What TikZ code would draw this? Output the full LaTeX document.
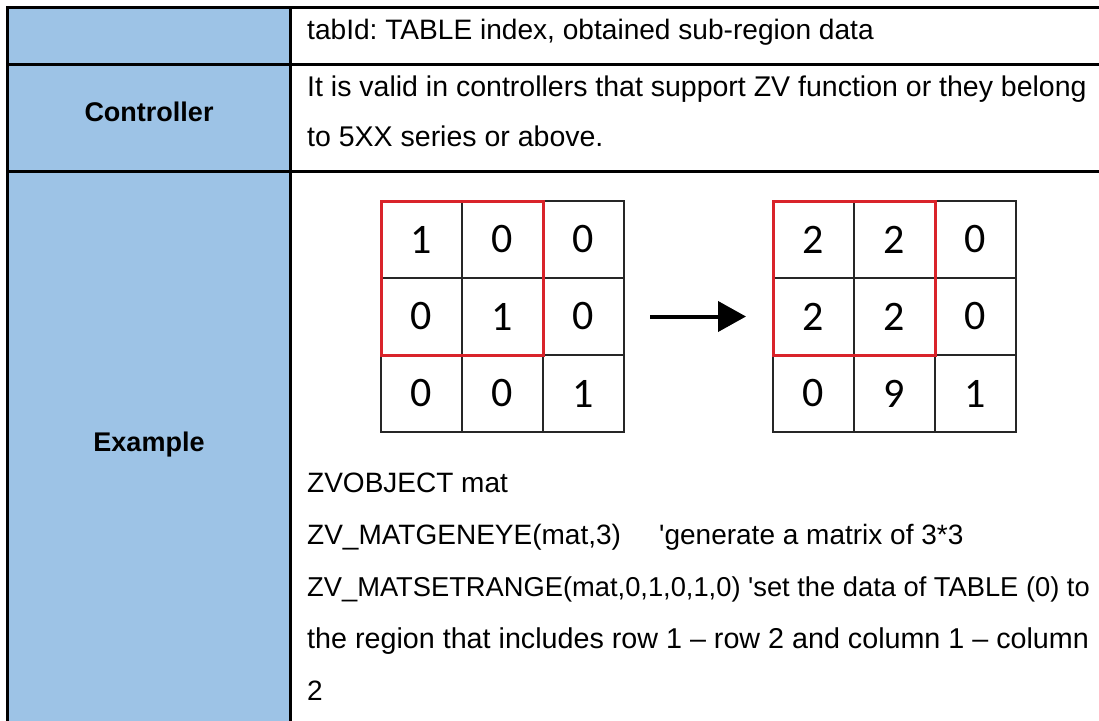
\documentclass[tikz,border=0pt]{standalone}
\usepackage{fontspec}
\setmainfont{Liberation Sans}
\newfontfamily\digitfont{Carlito}
\usetikzlibrary{arrows.meta}
\definecolor{headblue}{HTML}{9DC3E6}
\definecolor{boxred}{HTML}{D9232A}
\frenchspacing
\begin{document}
\begin{tikzpicture}[x=1pt,y=-1pt,
  rule/.style={line width=3pt, draw=black},
  body/.style={anchor=mid west, inner sep=0pt, font=\fontsize{#1}{30}\selectfont},
  body/.default=28,
  head/.style={anchor=mid, inner sep=0pt, font=\fontsize{27}{30}\selectfont\bfseries},
  cell/.style={draw=black!85, line width=1.3pt, minimum width=81pt, minimum height=77pt,
    inner sep=0pt, outer sep=0pt, anchor=north west, font=\fontsize{42}{42}\selectfont\digitfont},
  sel/.style={draw=boxred, line width=3pt},
  flow/.style={line width=4pt, -{Triangle[length=28pt,width=30pt]}}
]
\useasboundingbox (0,0) rectangle (1099,720);
\clip (0,0) rectangle (1099,720);

% header column
\fill[headblue] (7.5,7.5) rectangle (290,730);

% table rules
\draw[rule] (7.5,730) -- (7.5,7.5) -- (1110,7.5);
\draw[rule] (7.5,64.5) -- (1110,64.5);
\draw[rule] (7.5,171) -- (1110,171);
\draw[rule] (290,7.5) -- (290,730);

% header labels
\node[head] (hctrl) at (149,119) {Controller};
\node[head] (hex) at (149,449) {Example};

% description texts
\node[body=28.1] (tab) at (307,37) {tabId: TABLE index, obtained sub-region data};
\node[body=28.5] (c1) at (307,94) {It is valid in controllers that support ZV function or they belong};
\node[body=28.5] (c2) at (307,144) {to 5XX series or above.};

% matrix before the call
\foreach \v [count=\i from 0] in {1,0,0,0,1,0,0,0,1} {
  \pgfmathtruncatemacro\cc{mod(\i,3)}
  \pgfmathtruncatemacro\rr{div(\i,3)}
  \node[cell] (a\rr\cc) at ({381+81*\cc},{201+77*\rr}) {\v};
}
% matrix after the call
\foreach \v [count=\i from 0] in {2,2,0,2,2,0,0,9,1} {
  \pgfmathtruncatemacro\cc{mod(\i,3)}
  \pgfmathtruncatemacro\rr{div(\i,3)}
  \node[cell] (b\rr\cc) at ({773+81*\cc},{201+77*\rr}) {\v};
}
% selected 2x2 sub-regions
\draw[sel] (a00.north west) rectangle (a11.south east);
\draw[sel] (b00.north west) rectangle (b11.south east);

\draw[flow, shorten <=26pt, shorten >=27pt] (a12.east) -- (b10.west);

% example code
\node[body] (l1) at (307,490) {ZVOBJECT mat};
\node[body] (l2) at (307,542) {ZV\_MATGENEYE(mat,3)};
\node[body] (l2c) at (659,542) {\textquotesingle generate a matrix of 3*3};
\node[body=27.3] (l3) at (307,594) {ZV\_MATSETRANGE(mat,0,1,0,1,0) \textquotesingle set the data of TABLE (0) to};
\node[body=28.7] (l4) at (307,646) {the region that includes row 1 – row 2 and column 1 – column};
\node[body] (l5) at (307,698) {2};
\end{tikzpicture}
\end{document}
